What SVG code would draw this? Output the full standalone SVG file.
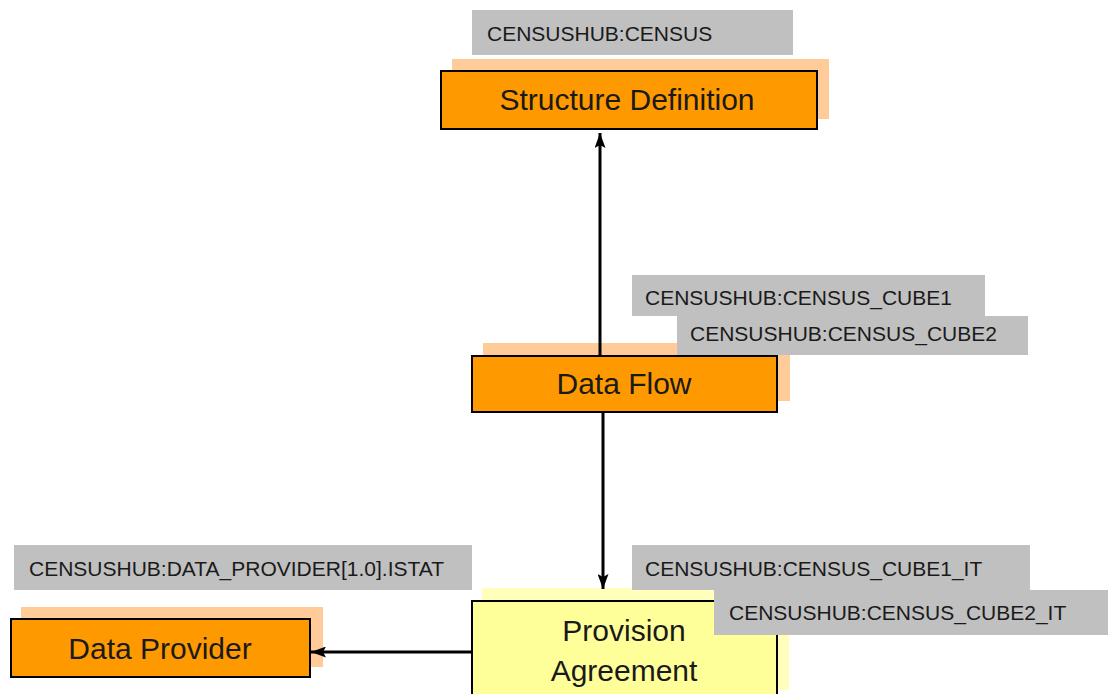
<svg xmlns="http://www.w3.org/2000/svg" width="1108" height="694" viewBox="0 0 1108 694">
<defs>
<style>
.lbl{fill:#c0c0c0;}
.lt{font-family:"Liberation Sans",Arial,sans-serif;font-size:21px;fill:#1a1a1a;}
.sh{fill:#ffcc99;}
.box{fill:#ff9900;stroke:#000;stroke-width:2;}
.ysh{fill:#ffffbb;}
.ybox{fill:#ffff99;stroke:#000;stroke-width:2;}
.nt{font-family:"Liberation Sans",Arial,sans-serif;font-size:30px;fill:#1a1a1a;text-anchor:middle;}
.conn{stroke:#000;stroke-width:3;fill:none;}
</style>
<marker id="ah" viewBox="0 0 15 11" refX="15" refY="5.5" markerWidth="15" markerHeight="11" markerUnits="userSpaceOnUse" orient="auto">
<path d="M0,0 L15,5.5 L0,11 L3,5.5 z" fill="#000"/>
</marker>
</defs>
<rect width="1108" height="694" fill="#fff"/>
<g id="structure-definition">
<rect class="lbl" x="472" y="10" width="321" height="45"/>
<text class="lt" x="487" y="41">CENSUSHUB:CENSUS</text>
<rect class="sh" x="452" y="59" width="377" height="60"/>
<rect class="box" x="441" y="71" width="376" height="58"/>
<text class="nt" x="627" y="110">Structure Definition</text>
</g>
<g id="data-flow">
<rect class="sh" x="483" y="343" width="307" height="58"/>
<rect class="box" x="472" y="356" width="305" height="56"/>
<text class="nt" x="624" y="394">Data Flow</text>
<rect class="lbl" x="632" y="275" width="353" height="41"/>
<text class="lt" x="645" y="305">CENSUSHUB:CENSUS_CUBE1</text>
<rect class="lbl" x="677" y="316" width="351" height="39"/>
<text class="lt" x="690" y="341">CENSUSHUB:CENSUS_CUBE2</text>
</g>
<g id="data-provider">
<rect class="lbl" x="14" y="545" width="458" height="45"/>
<text class="lt" x="29" y="576">CENSUSHUB:DATA_PROVIDER[1.0].ISTAT</text>
<rect class="sh" x="21" y="607" width="302" height="60"/>
<rect class="box" x="11" y="619" width="299" height="58"/>
<text class="nt" x="160" y="659">Data Provider</text>
</g>
<g id="provision-agreement">
<rect class="ysh" x="482" y="588" width="307" height="102"/>
<rect class="ybox" x="472" y="601" width="305" height="110"/>
<text class="nt" x="624" y="641">Provision</text>
<text class="nt" x="624" y="681">Agreement</text>
<rect class="lbl" x="632" y="545" width="398" height="45"/>
<text class="lt" x="645" y="576">CENSUSHUB:CENSUS_CUBE1_IT</text>
<rect class="lbl" x="714" y="590" width="396" height="45"/>
<text class="lt" x="729" y="620">CENSUSHUB:CENSUS_CUBE2_IT</text>
</g>
<g id="connectors">
<line class="conn" x1="600" y1="356" x2="600" y2="133" marker-end="url(#ah)"/>
<line class="conn" x1="603" y1="412" x2="603" y2="589" marker-end="url(#ah)"/>
<line class="conn" x1="471" y1="652" x2="311" y2="652" marker-end="url(#ah)"/>
</g>
</svg>
